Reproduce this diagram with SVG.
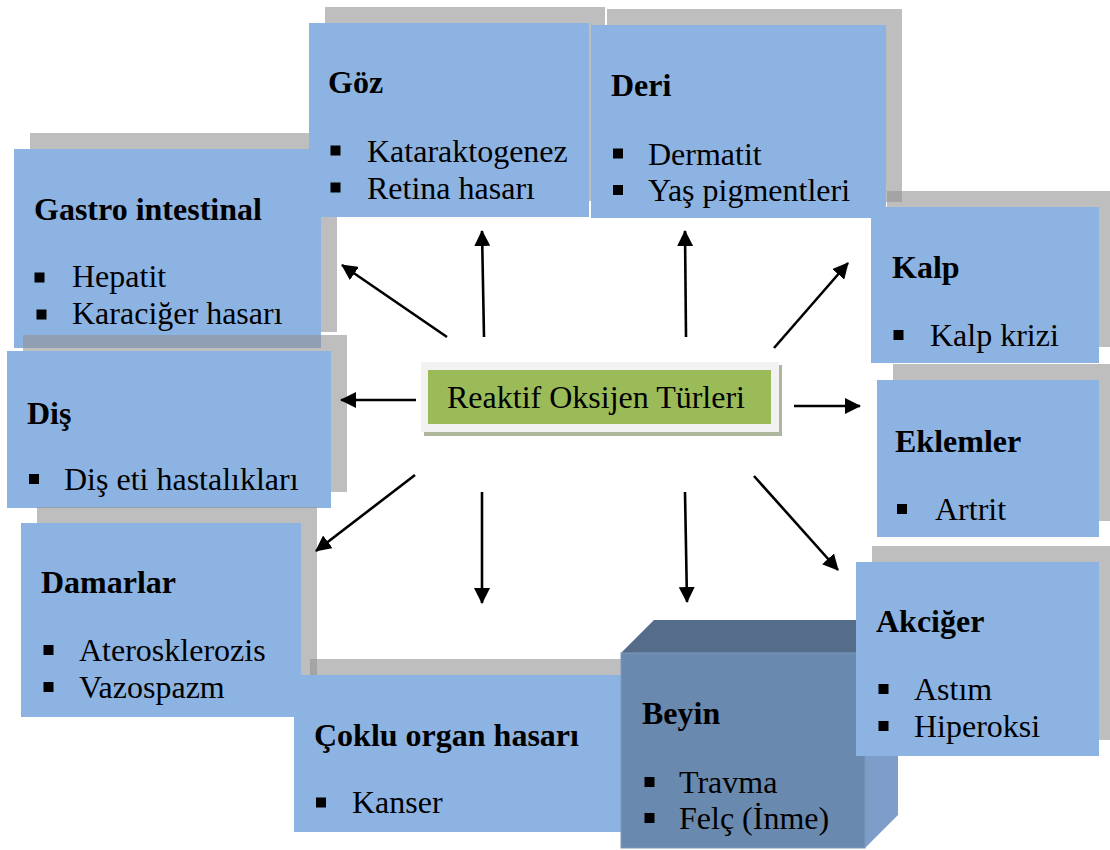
<svg xmlns="http://www.w3.org/2000/svg" width="1110" height="850" viewBox="0 0 1110 850">
<defs>
<style>
.box{fill:#8db3e2}
.sh{fill:#939393;fill-opacity:0.6}
.t{font-family:"Liberation Serif","Times New Roman",serif;font-size:32px;fill:#000}
.b{font-weight:bold}
.sq{fill:#000}
.ar{stroke:#000;stroke-width:2.6;fill:none;marker-end:url(#ah)}
</style>
<marker id="ah" markerUnits="userSpaceOnUse" markerWidth="16" markerHeight="16" refX="15" refY="8" orient="auto">
<path d="M0,0 L16,8 L0,16 Z" fill="#000"/>
</marker>
</defs>
<rect width="1110" height="850" fill="#fff"/>

<g id="gastro">
<rect class="sh" x="30" y="133" width="307" height="199"/>
<rect class="box" x="14" y="149" width="307" height="199"/>
<text class="t b" x="34" y="220">Gastro intestinal</text>
<rect class="sq" x="34.5" y="272.5" width="10" height="10"/>
<text class="t" x="72" y="287">Hepatit</text>
<rect class="sq" x="36.5" y="309.5" width="10" height="10"/>
<text class="t" x="72" y="324">Karaciğer hasarı</text>
</g>

<g id="goz">
<rect class="sh" x="325" y="7" width="280" height="194"/>
<rect class="box" x="309" y="23" width="280" height="194"/>
<text class="t b" x="328" y="93">Göz</text>
<rect class="sq" x="330.5" y="145.5" width="10" height="10"/>
<text class="t" x="367" y="162">Kataraktogenez</text>
<rect class="sq" x="330.5" y="182.5" width="10" height="10"/>
<text class="t" x="367" y="199">Retina hasarı</text>
</g>

<g id="deri">
<rect class="sh" x="607" y="9" width="295" height="193"/>
<rect class="box" x="591" y="25" width="295" height="193"/>
<text class="t b" x="611" y="96">Deri</text>
<rect class="sq" x="613" y="148.5" width="10" height="10"/>
<text class="t" x="648" y="165">Dermatit</text>
<rect class="sq" x="613" y="185" width="10" height="10"/>
<text class="t" x="648" y="201">Yaş pigmentleri</text>
</g>

<g id="kalp">
<rect class="sh" x="887" y="191" width="228" height="156"/>
<rect class="box" x="871" y="207" width="228" height="156"/>
<text class="t b" x="892" y="278">Kalp</text>
<rect class="sq" x="893.5" y="330" width="10" height="10"/>
<text class="t" x="930" y="346">Kalp krizi</text>
</g>

<g id="eklemler">
<rect class="sh" x="893" y="364" width="222" height="157"/>
<rect class="box" x="877" y="380" width="222" height="157"/>
<text class="t b" x="895" y="452">Eklemler</text>
<rect class="sq" x="897" y="504" width="10" height="10"/>
<text class="t" x="935" y="520">Artrit</text>
</g>

<g id="dis">
<rect class="sh" x="23" y="335" width="324" height="157"/>
<rect class="box" x="7" y="351" width="324" height="157"/>
<text class="t b" x="27" y="424">Diş</text>
<rect class="sq" x="29" y="474" width="10" height="10"/>
<text class="t" x="64" y="490">Diş eti hastalıkları</text>
</g>

<g id="damarlar">
<rect class="sh" x="37" y="507" width="280" height="194"/>
<rect class="box" x="21" y="523" width="280" height="194"/>
<text class="t b" x="41" y="593">Damarlar</text>
<rect class="sq" x="43.5" y="645" width="10" height="10"/>
<text class="t" x="79" y="661">Aterosklerozis</text>
<rect class="sq" x="43.5" y="682" width="10" height="10"/>
<text class="t" x="79" y="698">Vazospazm</text>
</g>

<g id="coklu">
<rect class="sh" x="310" y="659" width="340" height="157"/>
<rect class="box" x="294" y="675" width="340" height="157"/>
<text class="t b" x="314" y="746">Çoklu organ hasarı</text>
<rect class="sq" x="316" y="797.5" width="10" height="10"/>
<text class="t" x="352" y="813">Kanser</text>
</g>

<g id="beyin">
<polygon points="621,653 654,620 898,620 865,653" fill="#566c8b"/>
<polygon points="865,653 898,620 898,815 865,848" fill="#7e9ec9"/>
<rect x="621" y="653" width="244" height="195" fill="#6a89af" stroke="#7d97bb" stroke-width="1"/>
<text class="t b" x="642" y="724">Beyin</text>
<rect class="sq" x="644.5" y="777" width="10" height="10"/>
<text class="t" x="679" y="793">Travma</text>
<rect class="sq" x="644.5" y="813" width="10" height="10"/>
<text class="t" x="679" y="829">Felç (İnme)</text>
</g>

<g id="akciger">
<rect class="sh" x="872" y="546" width="243" height="194"/>
<rect class="box" x="856" y="562" width="243" height="194"/>
<text class="t b" x="876" y="632">Akciğer</text>
<rect class="sq" x="878.5" y="684" width="10" height="10"/>
<text class="t" x="914" y="700">Astım</text>
<rect class="sq" x="878.5" y="721" width="10" height="10"/>
<text class="t" x="914" y="737">Hiperoksi</text>
</g>

<g id="center">
<rect x="424" y="365" width="358" height="71" fill="#aeb69c"/>
<rect x="421" y="362" width="358" height="70" fill="#f2f2f2"/>
<rect x="428" y="370" width="343" height="54" fill="#9bbb59"/>
<text class="t" x="596" y="408" text-anchor="middle">Reaktif Oksijen Türleri</text>
</g>

<g id="connectors">
<line class="ar" x1="447" y1="337" x2="342" y2="265"/>
<line class="ar" x1="484" y1="337" x2="482" y2="231"/>
<line class="ar" x1="686" y1="337" x2="685" y2="231"/>
<line class="ar" x1="774" y1="348" x2="848" y2="263"/>
<line class="ar" x1="794" y1="406" x2="860" y2="406"/>
<line class="ar" x1="754" y1="476" x2="838" y2="570"/>
<line class="ar" x1="685" y1="492" x2="687" y2="602"/>
<line class="ar" x1="482" y1="492" x2="482" y2="603"/>
<line class="ar" x1="415" y1="475" x2="316" y2="551"/>
<line class="ar" x1="416" y1="400" x2="341" y2="400"/>
</g>
</svg>
